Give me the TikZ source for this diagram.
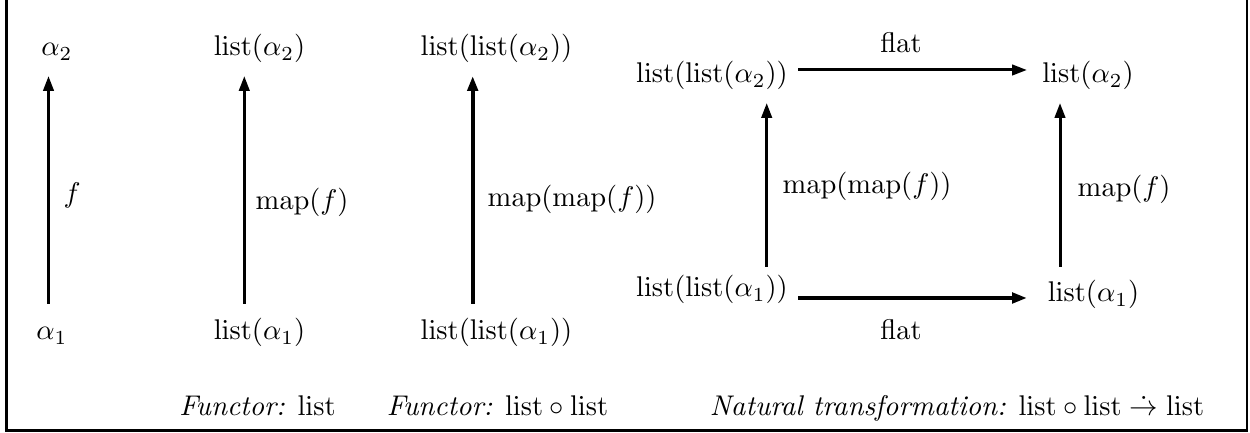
\documentclass[tikz,border=0pt]{standalone}
\usetikzlibrary{arrows.meta}
\begin{document}
\begin{tikzpicture}[x=0.351pt,y=-0.351pt,
  obj/.style={inner sep=0pt,anchor=base},
  lbl/.style={inner sep=0pt,anchor=base west},
  arr/.style={line width=1.05pt,-{Triangle[length=5.2pt,width=3.6pt]}},
  heavy/.style={line width=1.4pt}]
\useasboundingbox (0,0) rectangle (1250,433);
% open frame: left, bottom and right sides
\draw[line width=1pt] (6.7,0) -- (6.7,430.8) -- (1247,430.8) -- (1247,0);

% column 1: the function f
\node[obj] (a2) at (57,56) {$\alpha_2$};
\node[obj] (a1) at (52,340) {$\alpha_1$};
\draw[arr] ([shift={(-3.5,-36)}]a1.base) -- ([shift={(-8.5,20)}]a2.base);
\node[lbl] (fl) at (63,203) {$f$};

% column 2: functor list
\node[obj] (l2) at (259.5,56) {$\mathrm{list}(\alpha_2)$};
\node[obj] (l1) at (259.5,340) {$\mathrm{list}(\alpha_1)$};
\draw[arr] ([shift={(-15.2,-36)}]l1.base) -- ([shift={(-15.2,20)}]l2.base);
\node[lbl] (mapf1) at (255,210) {$\mathrm{map}(f)$};

% column 3: functor list o list
\node[obj] (ll2) at (496.5,56) {$\mathrm{list}(\mathrm{list}(\alpha_2))$};
\node[obj] (ll1) at (496.5,340) {$\mathrm{list}(\mathrm{list}(\alpha_1))$};
\draw[arr,heavy] ([shift={(-23.8,-36)}]ll1.base) -- ([shift={(-23.8,20)}]ll2.base);
\node[lbl] (mapmap1) at (487,207) {$\mathrm{map}(\mathrm{map}(f))$};

% natural transformation square
\node[obj] (sll2) at (712,83) {$\mathrm{list}(\mathrm{list}(\alpha_2))$};
\node[obj] (sl2) at (1088,83) {$\mathrm{list}(\alpha_2)$};
\node[obj] (sll1) at (712,297) {$\mathrm{list}(\mathrm{list}(\alpha_1))$};
\node[obj] (sl1) at (1093.5,302) {$\mathrm{list}(\alpha_1)$};

\draw[arr] ([shift={(86,-13)}]sll2.base) -- ([shift={(-61,-13)}]sl2.base);
\draw[arr,heavy] ([shift={(86,1)}]sll1.base) -- ([shift={(-66.5,-4)}]sl1.base);
\draw[arr] ([shift={(54.7,-30)}]sll1.base) -- ([shift={(54.7,20)}]sll2.base);
\draw[arr] ([shift={(-33.5,-35)}]sl1.base) -- ([shift={(-28,20)}]sl2.base);

\node[obj] (flat2) at (901,53) {flat};
\node[obj] (flat1) at (901,340) {flat};
\node[lbl] (mapmap2) at (782,194) {$\mathrm{map}(\mathrm{map}(f))$};
\node[lbl] (mapf2) at (1077,197) {$\mathrm{map}(f)$};

% captions
\node[obj] (cap1) at (257.5,416) {\textit{Functor:} $\mathrm{list}$};
\node[obj] (cap2) at (497.5,416) {\textit{Functor:} $\mathrm{list}\circ\mathrm{list}$};
\node[obj] (cap3) at (957,416) {\textit{Natural transformation:} $\mathrm{list}\circ\mathrm{list}\mathrel{\dot{\rightarrow}}\mathrm{list}$};
\end{tikzpicture}
\end{document}
